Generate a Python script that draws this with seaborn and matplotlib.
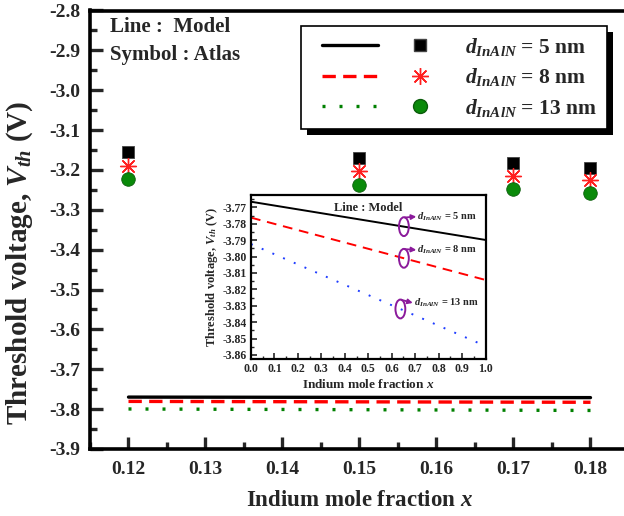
import numpy as np
import pandas as pd
import matplotlib
matplotlib.use("Agg")
import matplotlib.pyplot as plt
import seaborn as sns
from matplotlib.lines import Line2D
from matplotlib.patches import Ellipse, Rectangle
from matplotlib.legend_handler import HandlerTuple, HandlerLine2D
from matplotlib.ticker import MultipleLocator, FormatStrFormatter
from matplotlib.transforms import IdentityTransform

# ---------------- data ----------------
atlas_x = [0.12, 0.15, 0.17, 0.18]
atlas_5nm = [-3.154, -3.169, -3.182, -3.194]
atlas_8nm = [-3.189, -3.202, -3.215, -3.226]
atlas_13nm = [-3.222, -3.237, -3.248, -3.258]

model_x = [0.12, 0.15, 0.17, 0.18]
model_5nm = [-3.7698, -3.7705, -3.7709, -3.7711]
model_8nm = [-3.7806, -3.7817, -3.7825, -3.7828]
model_13nm = [-3.7996, -3.8014, -3.8027, -3.8033]

inset_x = [0.0, 1.0]
inset_5nm = [-3.7666, -3.7899]
inset_8nm = [-3.7763, -3.8143]
inset_13nm = [-3.7924, -3.8546]

labels = ["5 nm", "8 nm", "13 nm"]

# ---------------- style ----------------
sns.set_theme(style="white")
plt.rcParams["font.family"] = ["Liberation Serif", "DejaVu Serif"]
plt.rcParams["font.weight"] = "bold"
plt.rcParams["axes.unicode_minus"] = False
plt.rcParams["mathtext.fontset"] = "custom"
plt.rcParams["mathtext.rm"] = "Liberation Serif:bold"
plt.rcParams["mathtext.it"] = "Liberation Serif:italic:bold"
plt.rcParams["mathtext.bf"] = "Liberation Serif:bold"

fig = plt.figure(figsize=(6.24, 5.16), dpi=100)
ax = fig.add_axes([90 / 624, 67 / 516, 539 / 624, 438.5 / 516])

def long_df(xs, ys_list):
    rows = []
    for lab, ys in zip(labels, ys_list):
        for x, y in zip(xs, ys):
            rows.append({"x": x, "y": y, "d": lab})
    return pd.DataFrame(rows)

mdf = long_df(model_x, [model_5nm, model_8nm, model_13nm])
adf = long_df(atlas_x, [atlas_5nm, atlas_8nm, atlas_13nm])

line_colors = ["black", "#ff0000", "#008000"]
line_styles = ["-", (0, (4, 2.2)), (0, (0.9, 4.2))]
for lab, c, ls in zip(labels, line_colors, line_styles):
    sub = mdf[mdf["d"] == lab]
    sns.lineplot(data=sub, x="x", y="y", ax=ax, color=c, lw=2.4,
                 linestyle=ls, legend=False, estimator=None, sort=True,
                 dash_capstyle="butt")

# markers
s5 = adf[adf["d"] == "5 nm"]
s8 = adf[adf["d"] == "8 nm"]
s13 = adf[adf["d"] == "13 nm"]
sns.scatterplot(data=s5, x="x", y="y", ax=ax, marker="s", s=75, color="black",
                edgecolor="#444444", linewidth=0.6, legend=False, zorder=5)
sns.scatterplot(data=s8, x="x", y="y", ax=ax, marker=(8, 2, 0), s=130,
                color="#ff2020", linewidth=1.0, legend=False, zorder=5)
sns.scatterplot(data=s13, x="x", y="y", ax=ax, marker="o", s=95,
                color="#0a8a0a", edgecolor="#0b5d0b", linewidth=0.6,
                legend=False, zorder=5)

ax.set_xlim(0.115, 0.185)
ax.set_ylim(-3.9, -2.8)
ax.xaxis.set_major_locator(MultipleLocator(0.01))
ax.xaxis.set_minor_locator(MultipleLocator(0.005))
ax.yaxis.set_major_locator(MultipleLocator(0.1))
ax.yaxis.set_minor_locator(MultipleLocator(0.05))
ax.xaxis.set_major_formatter(FormatStrFormatter("%.2f"))
ax.yaxis.set_major_formatter(FormatStrFormatter("%.1f"))
ax.tick_params(which="major", direction="in", length=9, width=2.4,
               labelsize=14, bottom=True, left=True, top=False, right=False)
ax.tick_params(axis="x", which="major", pad=9)
ax.tick_params(axis="y", which="major", pad=7)
ax.tick_params(which="minor", direction="in", length=5, width=2.4,
               bottom=True, left=True, top=False, right=False)
for lbl in ax.get_xticklabels() + ax.get_yticklabels():
    lbl.set_fontweight("bold")
for sp in ax.spines.values():
    sp.set_linewidth(2.6)
    sp.set_color("black")

ax.set_xlabel(r"Indium mole fraction $x$", fontsize=16.5, fontweight="bold", labelpad=8)
ax.set_ylabel(r"Threshold voltage, $V_{th}$ (V)", fontsize=21, fontweight="bold",
              va="center")
ax.yaxis.set_label_coords((20 - 90) / 539, (449 - 263) / 438.5)

ax.text(110 / 624, 1 - 27 / 516, "Line :  Model", transform=fig.transFigure,
        fontsize=15, fontweight="bold", va="center", ha="left")
ax.text(110 / 624, 1 - 55 / 516, "Symbol : Atlas", transform=fig.transFigure,
        fontsize=15, fontweight="bold", va="center", ha="left")

# legend
class ShiftedLine(HandlerLine2D):
    def create_artists(self, legend, orig_handle, xdescent, ydescent, width,
                       height, fontsize, trans):
        shift = 0.56 * fontsize
        return super().create_artists(legend, orig_handle, xdescent - shift,
                                      ydescent, width, height, fontsize, trans)

lh = [Line2D([], [], color=c, lw=2.4, linestyle=ls, dash_capstyle="butt")
      for c, ls in zip(line_colors, line_styles)]
mh = [Line2D([], [], ls="none", marker="s", ms=9, color="black", mec="#444444"),
      Line2D([], [], ls="none", marker=(8, 2, 0), ms=12, color="#ff2020", mew=1.0),
      Line2D([], [], ls="none", marker="o", ms=10, color="#0a8a0a", mec="#0b5d0b")]
handles = [(l, m) for l, m in zip(lh, mh)]
hmap = {tuple: HandlerTuple(ndivide=None, pad=1.2)}
for l in lh:
    hmap[l] = ShiftedLine()
texts = [r"$d_{InAlN}$ = " + t for t in labels]
leg = ax.legend(handles, texts, handler_map=hmap,
                loc="upper right", bbox_to_anchor=(607 / 624, 1 - 26 / 516),
                bbox_transform=fig.transFigure, borderaxespad=0, fancybox=False,
                frameon=True, edgecolor="black", framealpha=1, numpoints=1,
                handlelength=6.4, handletextpad=0.8, labelspacing=0.4,
                borderpad=0.45, prop={"family": "Liberation Serif", "weight": "bold", "size": 15.5})
leg.get_frame().set_linewidth(1.2)
leg.set_zorder(10)

# inset
axi = fig.add_axes([251 / 624, 1 - 359 / 516, 234.5 / 624, 164 / 516])
idf = long_df(inset_x, [inset_5nm, inset_8nm, inset_13nm])
inset_colors = ["black", "#ff0000", "#1f3dff"]
inset_styles = ["-", (0, (5, 3.5)), (0, (1, 5))]
for lab, c, ls in zip(labels, inset_colors, inset_styles):
    sub = idf[idf["d"] == lab]
    sns.lineplot(data=sub, x="x", y="y", ax=axi, color=c, lw=1.4,
                 linestyle=ls, legend=False, estimator=None)
axi.set_xlim(0, 1)
axi.set_ylim(-3.8625, -3.7625)
axi.xaxis.set_major_locator(MultipleLocator(0.1))
axi.xaxis.set_minor_locator(MultipleLocator(0.05))
axi.yaxis.set_major_locator(MultipleLocator(0.01))
axi.yaxis.set_minor_locator(MultipleLocator(0.005))
axi.xaxis.set_major_formatter(FormatStrFormatter("%.1f"))
axi.yaxis.set_major_formatter(FormatStrFormatter("%.2f"))
axi.tick_params(which="major", direction="in", length=4, width=1.2, labelsize=8.5,
                bottom=True, left=True, top=False, right=False, pad=3)
axi.tick_params(which="minor", direction="in", length=2.5, width=1.0,
                bottom=True, left=True, top=False, right=False)
for lbl in axi.get_xticklabels() + axi.get_yticklabels():
    lbl.set_fontweight("bold")
for sp in axi.spines.values():
    sp.set_linewidth(1.6)
    sp.set_color("black")
axi.set_xlabel(r"Indium mole fraction $x$", fontsize=9.5, fontweight="bold", labelpad=2)
axi.set_ylabel(r"Threshold voltage, $V_{th}$ (V)", fontsize=9, fontweight="bold", labelpad=2)
axi.text(0.5, 0.92, "Line : Model", transform=axi.transAxes, ha="center", va="center",
         fontsize=9, fontweight="bold")

purple = "#8b1a9b"
ell_pts = [(0.652, -3.7818, 0.705, -3.7757), (0.652, -3.8011, 0.705, -3.7960),
           (0.637, -3.8320, 0.69, -3.8283)]
for (ex, ey, tx, ty), lab in zip(ell_pts, labels):
    axi.add_patch(Ellipse((ex, ey), 0.042, 0.0115, fill=False, ec=purple, lw=1.4, zorder=6))
    axi.annotate("", xy=(tx, ty), xytext=(ex + 0.004, ey + 0.0056),
                 arrowprops=dict(arrowstyle="-|>", color=purple, lw=1.3,
                                 mutation_scale=7, shrinkA=0, shrinkB=0))
    axi.text(tx + 0.005, ty, r"$d_{InAlN}$ = " + lab, fontsize=7.5, fontweight="bold",
             va="center", ha="left")

# legend shadow
fig.canvas.draw()
bb = leg.get_window_extent()
shadow = Rectangle((bb.x0 + 6, bb.y0 - 6), bb.width, bb.height, transform=IdentityTransform(),
                   facecolor="black", edgecolor="none", zorder=9)
ax.add_patch(shadow)

fig.savefig("out.png", dpi=100)
